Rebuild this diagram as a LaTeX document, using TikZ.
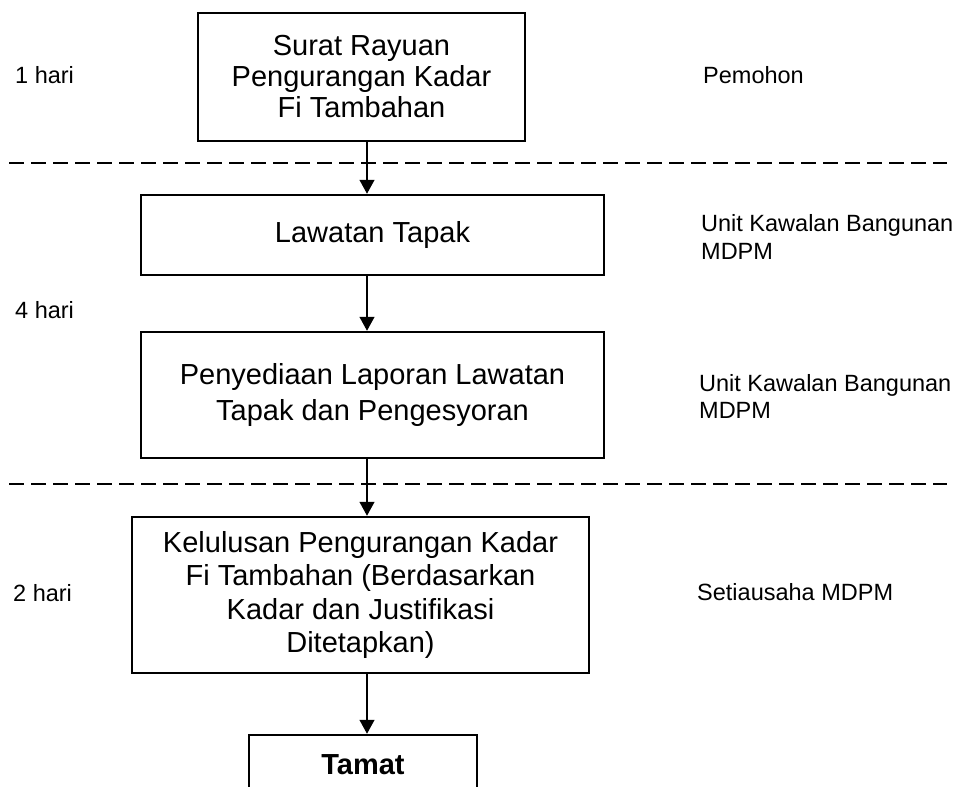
\documentclass[tikz,border=0pt]{standalone}
\usepackage{fontspec}
\setmainfont{Liberation Sans}
\usetikzlibrary{arrows.meta}
\tikzset{
  stepbox/.style={draw, line width=2.5pt, rectangle, inner sep=0pt, align=center, font=\fontsize{29}{31}\selectfont},
  arr/.style={line width=1.3pt, -{Triangle[length=14pt,width=15pt]}},
  sep/.style={line width=2pt, dash pattern=on 15pt off 7pt},
  side/.style={anchor=west, inner sep=0pt, align=left, font=\fontsize{23.5}{27.7}\selectfont},
}
\begin{document}
\begin{tikzpicture}[x=1pt,y=-1pt]
\useasboundingbox (0,0) rectangle (959,787);
\clip (0,0) rectangle (959,787);
\coordinate (ax) at (367,0);
\coordinate (l1a) at (9,163);
\coordinate (l1b) at (947,163);
\coordinate (l2a) at (9,484);
\coordinate (l2b) at (947,484);

\node[stepbox, minimum width=327pt, minimum height=128pt] (b1) at (361.5,77)
  {Surat Rayuan\\Pengurangan Kadar\\Fi Tambahan};
\node[stepbox, minimum width=463pt, minimum height=80pt] (b2) at (372.5,235)
  {Lawatan Tapak};
\node[stepbox, minimum width=463pt, minimum height=126pt, font=\fontsize{29}{36.7}\selectfont] (b3) at (372.5,395)
  {Penyediaan Laporan Lawatan\\Tapak dan Pengesyoran};
\node[stepbox, minimum width=457pt, minimum height=156pt, font=\fontsize{29}{33.3}\selectfont] (b4) at (360.5,595)
  {Kelulusan Pengurangan Kadar\\Fi Tambahan (Berdasarkan\\Kadar dan Justifikasi\\Ditetapkan)};
\node[stepbox, minimum width=228pt, minimum height=60pt, font=\fontsize{29}{31}\selectfont\bfseries] (b5) at (363,765)
  {Tamat};

\draw[sep] (l1a) -- (l1b);
\draw[sep] (l2a) -- (l2b);

\draw[arr] (b1.south -| ax) -- (b2.north -| ax);
\draw[arr] (b2.south -| ax) -- (b3.north -| ax);
\draw[arr] (b3.south -| ax) -- (b4.north -| ax);
\draw[arr] (b4.south -| ax) -- (b5.north -| ax);

\node[side] (t1) at (15,75) {1 hari};
\node[side] (t2) at (15,310) {4 hari};
\node[side] (t3) at (13,593) {2 hari};

\node[side] (r1) at (703,75) {Pemohon};
\node[side] (r2) at (701,237) {Unit Kawalan Bangunan\\MDPM};
\node[side] (r3) at (699,396.5) {Unit Kawalan Bangunan\\MDPM};
\node[side] (r4) at (697,592) {Setiausaha MDPM};
\end{tikzpicture}
\end{document}
